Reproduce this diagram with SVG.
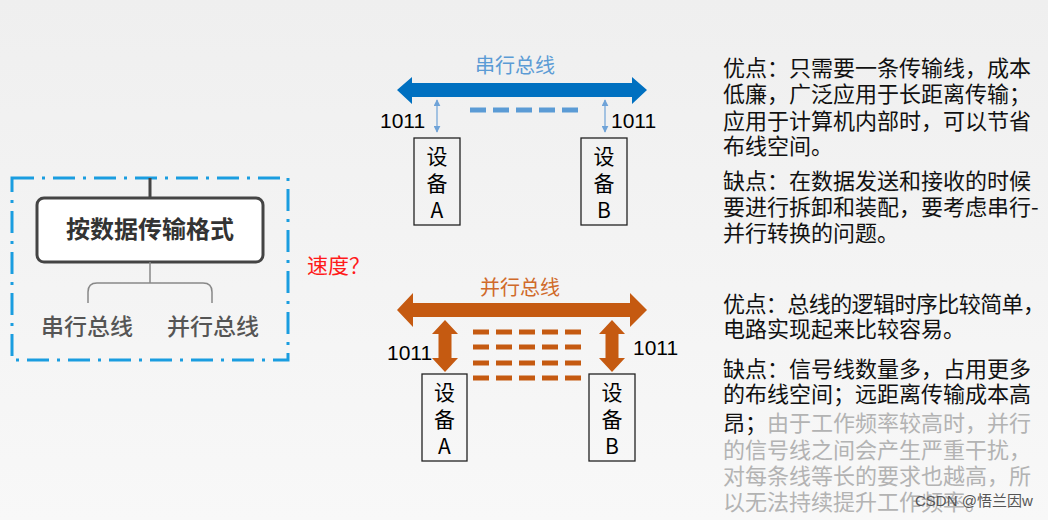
<svg xmlns="http://www.w3.org/2000/svg" width="1048" height="520" viewBox="0 0 1048 520">
<defs>
<linearGradient id="bg" x1="0" y1="0" x2="0" y2="1">
<stop offset="0" stop-color="#efefef"/>
<stop offset="1" stop-color="#f8f8f8"/>
</linearGradient>
<marker id="ah" viewBox="0 0 10 10" refX="9" refY="5" markerWidth="7" markerHeight="7" orient="auto-start-reverse" markerUnits="userSpaceOnUse">
<path d="M0,0 L10,5 L0,10 z" fill="#6fa3d8"/>
</marker>
<style>
.cn{font-family:"Noto Sans CJK SC","Noto Sans",sans-serif;}
.num{font-family:"Liberation Sans",Arial,sans-serif;font-size:21px;fill:#000;}
.dev{font-family:"Noto Sans CJK SC","Noto Sans",sans-serif;font-size:21px;fill:#000;text-anchor:middle;}
.box{fill:none;stroke:#222;stroke-width:1.3;}
.desc{font-family:"Noto Sans CJK SC",sans-serif;font-size:22px;fill:#111;}
.gray{fill:#b3b3b3;}
.sdash{stroke:#5b9bd5;stroke-width:5;stroke-dasharray:16 7;fill:none;}
.pdash{stroke:#c55a11;stroke-width:5;stroke-dasharray:16 7;fill:none;}
</style>
</defs>
<rect width="1048" height="520" fill="url(#bg)"/>

<g id="category-box">
<rect x="12" y="178" width="276" height="182" fill="none" stroke="#1a9de0" stroke-width="3" stroke-dasharray="22 8 3 8"/>
<line x1="150" y1="178" x2="150" y2="198" stroke="#444" stroke-width="3"/>
<rect x="37" y="198" width="226" height="64" rx="7" fill="#fff" stroke="#444" stroke-width="3"/>
<text x="150" y="238" class="cn" font-size="24" font-weight="700" fill="#333" text-anchor="middle">按数据传输格式</text>
<path d="M150,262 V283 M88,303 V292 Q88,283 97,283 H203 Q212,283 212,292 V303" fill="none" stroke="#888" stroke-width="1.5"/>
<text x="87" y="335" class="cn" font-size="23" font-weight="500" fill="#555" text-anchor="middle">串行总线</text>
<text x="213" y="335" class="cn" font-size="23" font-weight="500" fill="#555" text-anchor="middle">并行总线</text>
</g>

<g id="speed-label">
<text x="307" y="273" class="cn" font-size="21" fill="#ff1a1a">速度？</text>
</g>

<g id="serial-bus">
<polygon points="397,90 412,77 412,83 632,83 632,77 647,90 632,104 632,97 412,97 412,104" fill="#0070c0"/>
<text x="515" y="73" class="cn" font-size="20" fill="#5b9bd5" text-anchor="middle">串行总线</text>
</g>

<g id="serial-device-a">
<rect x="414" y="138" width="46" height="87" class="box"/>
<text x="437" y="164" class="dev">设</text>
<text x="437" y="191" class="dev">备</text>
<text x="437" y="218" class="dev" font-family="Liberation Sans,sans-serif">A</text>
<text x="380" y="128" class="num">1011</text>
</g>

<g id="serial-device-b">
<rect x="581" y="138" width="46" height="87" class="box"/>
<text x="604" y="164" class="dev">设</text>
<text x="604" y="191" class="dev">备</text>
<text x="604" y="218" class="dev" font-family="Liberation Sans,sans-serif">B</text>
<text x="611" y="128" class="num">1011</text>
</g>

<g id="parallel-bus">
<polygon points="397,310 413,293 413,303 630,303 630,293 647,310 630,327 630,317 413,317 413,327" fill="#c55a11"/>
<text x="520" y="295" class="cn" font-size="20" fill="#d06a2a" text-anchor="middle">并行总线</text>
</g>

<g id="parallel-device-a">
<rect x="422" y="374" width="45" height="87" class="box"/>
<text x="444.5" y="400" class="dev">设</text>
<text x="444.5" y="427" class="dev">备</text>
<text x="444.5" y="454" class="dev" font-family="Liberation Sans,sans-serif">A</text>
<text x="387" y="360" class="num">1011</text>
</g>

<g id="parallel-device-b">
<rect x="589" y="374" width="46" height="87" class="box"/>
<text x="612" y="400" class="dev">设</text>
<text x="612" y="427" class="dev">备</text>
<text x="612" y="454" class="dev" font-family="Liberation Sans,sans-serif">B</text>
<text x="633" y="355" class="num">1011</text>
</g>

<g id="connectors">
<line x1="437" y1="100" x2="437" y2="132" stroke="#6fa3d8" stroke-width="1.2" marker-start="url(#ah)" marker-end="url(#ah)"/>
<line x1="605" y1="100" x2="605" y2="132" stroke="#6fa3d8" stroke-width="1.2" marker-start="url(#ah)" marker-end="url(#ah)"/>
<line x1="470" y1="110" x2="584" y2="110" class="sdash"/>
<polygon points="445,320 458,334 451.5,334 451.5,358 458,358 445,372 432,358 438.5,358 438.5,334 432,334" fill="#c55a11"/>
<polygon points="612,320 625,334 618.5,334 618.5,358 625,358 612,372 599,358 605.5,358 605.5,334 599,334" fill="#c55a11"/>
<line x1="473" y1="332" x2="588" y2="332" class="pdash"/>
<line x1="473" y1="347" x2="588" y2="347" class="pdash"/>
<line x1="473" y1="363" x2="588" y2="363" class="pdash"/>
<line x1="473" y1="378" x2="588" y2="378" class="pdash"/>
</g>

<g id="serial-notes">
<text x="723" y="76" class="desc">优点：只需要一条传输线，成本</text>
<text x="723" y="102" class="desc">低廉，广泛应用于长距离传输；</text>
<text x="723" y="129" class="desc">应用于计算机内部时，可以节省</text>
<text x="723" y="154" class="desc">布线空间。</text>
<text x="723" y="189" class="desc">缺点：在数据发送和接收的时候</text>
<text x="723" y="215" class="desc">要进行拆卸和装配，要考虑串行-</text>
<text x="723" y="241" class="desc">并行转换的问题。</text>
</g>

<g id="parallel-notes">
<text x="723" y="312" class="desc" textLength="322" lengthAdjust="spacing">优点：总线的逻辑时序比较简单，</text>
<text x="723" y="337" class="desc">电路实现起来比较容易。</text>
<text x="723" y="377" class="desc">缺点：信号线数量多，占用更多</text>
<text x="723" y="402" class="desc">的布线空间；远距离传输成本高</text>
<text x="723" y="431" class="desc">昂；<tspan class="gray">由于工作频率较高时，并行</tspan></text>
<text x="723" y="458" class="desc gray">的信号线之间会产生严重干扰，</text>
<text x="723" y="484" class="desc gray">对每条线等长的要求也越高，所</text>
<text x="723" y="510" class="desc gray">以无法持续提升工作频率。</text>
</g>

<g id="watermark">
<text x="915" y="506" font-family="Liberation Sans,'Noto Sans CJK SC',sans-serif" font-size="15" fill="#555">CSDN @悟兰因w</text>
</g>
</svg>
